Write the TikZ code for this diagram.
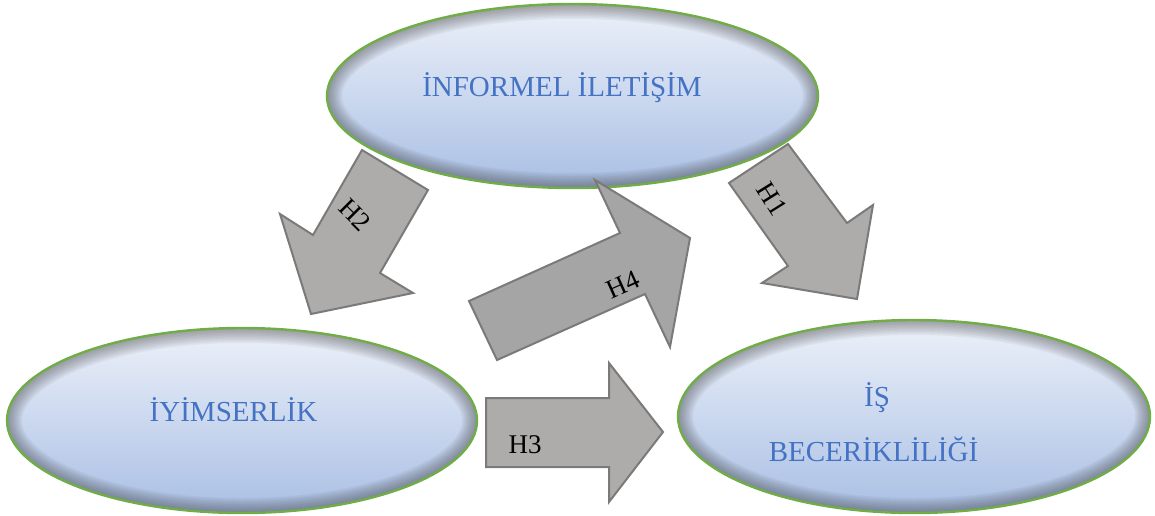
\documentclass[tikz,border=0pt]{standalone}
\usepackage{fontspec}
\setmainfont{Liberation Serif}
\usetikzlibrary{shapes.geometric}
\definecolor{ellgreen}{HTML}{70AD47}
\definecolor{elltext}{HTML}{4472C4}
\definecolor{elltop}{HTML}{EDF1F9}
\definecolor{ellbot}{HTML}{A9BFE4}
\definecolor{arrfill}{HTML}{AEABAB}
\definecolor{arrfillb}{HTML}{A5A5A5}
\definecolor{arredge}{HTML}{7A7A7A}
\newcommand\vignette[2]{%
  \foreach \w in {3,6,...,30}{%
    \draw[line width=\w pt, draw=black!75, opacity=0.055]
      (path picture bounding box.center) ellipse [x radius=#1pt, y radius=#2pt];}}
\tikzset{
  oval/.style={shape=ellipse, inner sep=0pt, draw=ellgreen, line width=2.4pt,
    top color=elltop, bottom color=ellbot},
  ovaltext/.style={text=elltext, font=\fontsize{29}{33}\selectfont, anchor=base, inner sep=0pt},
  blockarrow/.style={fill=arrfill, draw=arredge, line width=2pt, line join=miter},
  blockarrowb/.style={blockarrow, fill=arrfillb},
  lbl/.style={font=\fontsize{27}{30}\selectfont, text=black, inner sep=0pt}
}
\begin{document}
\begin{tikzpicture}[x=1pt, y=-1pt]
\useasboundingbox (0,0) rectangle (1155,515);
% ellipses
\node[oval, minimum width=491pt, minimum height=184pt,
  path picture={\vignette{245.5}{92}}] (inf) at (572.5,96) {};
\node[oval, minimum width=470pt, minimum height=185pt,
  path picture={\vignette{235}{92.5}}] (iyi) at (242,420.5) {};
\node[oval, minimum width=472pt, minimum height=193pt,
  path picture={\vignette{236}{96.5}}] (isb) at (914,416.5) {};
% ellipse texts
\node[ovaltext] (tinf) at (562,96.5) {İNFORMEL İLETİŞİM};
\node[ovaltext] (tiyi) at (233.5,421) {İYİMSERLİK};
\node[ovaltext] (tis) at (877,406.5) {İŞ};
\node[ovaltext] (tbec) at (873.5,461.5) {BECERİKLİLİĞİ};
% block arrows
% H2
\draw[blockarrow] (362,150) -- (428,190) -- (380,273) -- (413,293) -- (311,314)
  -- (280,214) -- (313,235) -- cycle;
% H1
\draw[blockarrow] (729,183) -- (788,144) -- (847,223) -- (873,205) -- (857,299)
  -- (762,283) -- (788,266) -- cycle;
% H4
\draw[blockarrowb] (497,360) -- (469,301) -- (620,233) -- (595,180) -- (690,238)
  -- (670,347) -- (645,294) -- cycle;
% H3
\draw[blockarrow] (486,398) -- (609,398) -- (609,363) -- (663,432) -- (609,502)
  -- (609,467) -- (486,467) -- cycle;
% labels
\node[lbl, rotate=-45] (h2) at (355,215) {H2};
\node[lbl, rotate=-58] (h1) at (772,199) {H1};
\node[lbl, rotate=24] (h4) at (623,285) {H4};
\node[lbl] (h3) at (525,445) {H3};
\end{tikzpicture}
\end{document}
